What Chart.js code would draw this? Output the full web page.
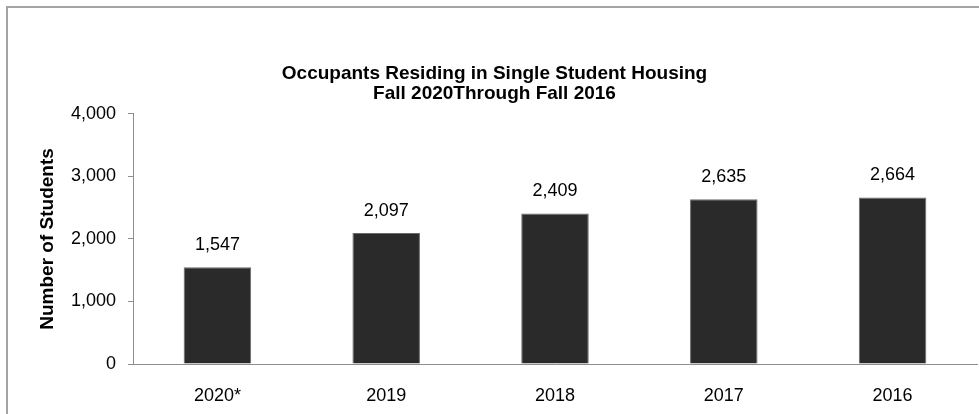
<!DOCTYPE html>
<html>
<head>
<meta charset="utf-8">
<script src="https://cdn.jsdelivr.net/npm/chart.js@4"></script>
<style>body{margin:0;background:#fff}</style>
</head>
<body>
<canvas id="graph" width="979" height="414"></canvas>
<script>
const years = ['2020*', '2019', '2018', '2017', '2016'];
const students = [1547, 2097, 2409, 2635, 2664];
const yTicks = [0, 1000, 2000, 3000, 4000];
const titleLines = ['Occupants Residing in Single Student Housing', 'Fall 2020Through Fall 2016'];
const yTitle = 'Number of Students';

const fontFamily = "'Liberation Sans', Arial, sans-serif";
const axisGray = '#8e8e8e';

// outer frame of the chart box (only top and left edge are visible)
const framePlugin = {
    id: 'frame',
    beforeDraw(chart) {
        const c = chart.ctx;
        c.save();
        c.strokeStyle = '#a3a3a3';
        c.lineWidth = 2;
        c.strokeRect(7, 7, chart.width + 20, chart.height + 20);
        c.restore();
    }
};

// value labels above each bar
const valueLabels = {
    id: 'valueLabels',
    afterDatasetsDraw(chart) {
        const c = chart.ctx;
        const meta = chart.getDatasetMeta(0);
        c.save();
        c.font = '18px ' + fontFamily;
        c.fillStyle = '#000';
        c.textAlign = 'center';
        c.textBaseline = 'alphabetic';
        meta.data.forEach((bar, i) => {
            c.fillText(students[i].toLocaleString('en-US'), bar.x, bar.y - 17);
        });
        c.restore();
    }
};

new Chart(document.getElementById('graph').getContext('2d'), {
    type: 'bar',
    data: {
        labels: years,
        datasets: [{
            data: students,
            backgroundColor: '#2a2a2a',
            borderColor: '#6a6a6a',
            borderWidth: { top: 1, left: 1, right: 1, bottom: 0 },
            categoryPercentage: 1,
            barPercentage: 0.4
        }]
    },
    options: {
        responsive: false,
        animation: false,
        layout: { padding: { left: 12, right: 2, top: 0, bottom: 0 } },
        plugins: {
            legend: { display: false },
            tooltip: { enabled: false },
            title: {
                display: true,
                text: titleLines,
                color: '#000',
                font: { family: fontFamily, size: 19, weight: 'bold', lineHeight: 1.05 },
                padding: { top: 64, bottom: 10 }
            }
        },
        scales: {
            x: {
                grid: { display: false },
                border: { display: true, color: axisGray },
                ticks: { color: '#000', padding: 13, font: { family: fontFamily, size: 18 } },
                afterFit(scale) { scale.height = 50; }
            },
            y: {
                min: yTicks[0],
                max: yTicks[yTicks.length - 1],
                afterBuildTicks(scale) { scale.ticks = yTicks.map(v => ({ value: v })); },
                grid: { display: true, drawOnChartArea: false, drawTicks: true, tickLength: 5, color: axisGray },
                border: { display: true, color: axisGray },
                ticks: {
                    color: '#000',
                    padding: 12,
                    font: { family: fontFamily, size: 18 },
                    callback: v => v.toLocaleString('en-US')
                },
                title: {
                    display: true,
                    text: yTitle,
                    color: '#000',
                    font: { family: fontFamily, size: 19, weight: 'bold' },
                    padding: { top: 24, bottom: 0 }
                },
                afterFit(scale) { scale.width = 121; }
            }
        }
    },
    plugins: [framePlugin, valueLabels]
});
</script>
</body>
</html>
